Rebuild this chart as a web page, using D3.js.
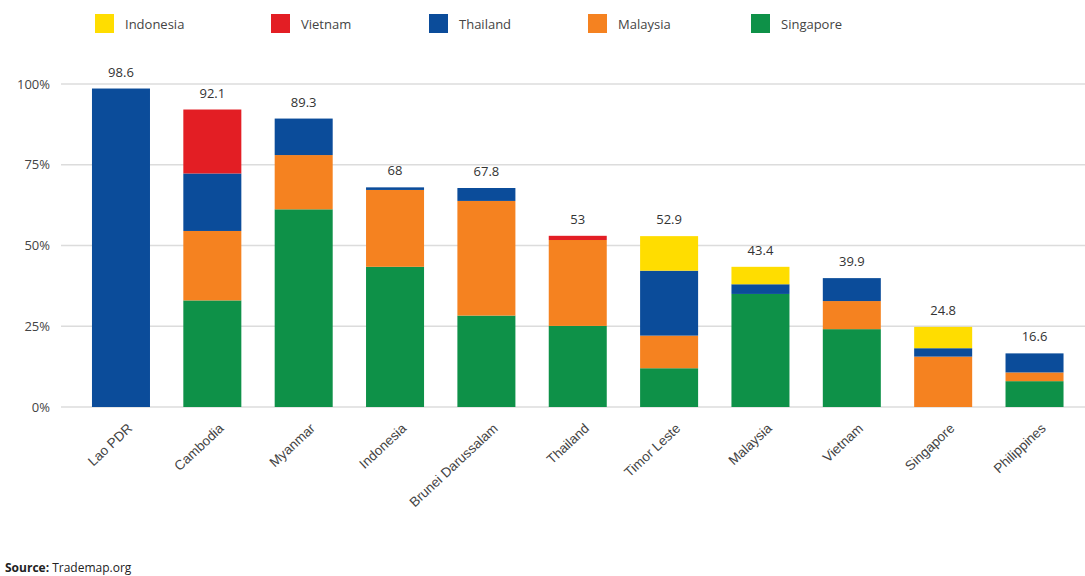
<!DOCTYPE html>
<html>
<head>
<meta charset="utf-8">
<script src="https://cdn.jsdelivr.net/npm/d3@7"></script>
<style>
  html, body { margin: 0; padding: 0; background: #fff; }
  svg { display: block; font-family: "Open Sans", sans-serif; }
</style>
</head>
<body>
<svg id="chart" width="1085" height="576"></svg>
<script>
// ---- data ----
const countries = ["Lao PDR", "Cambodia", "Myanmar", "Indonesia", "Brunei Darussalam", "Thailand", "Timor Leste", "Malaysia", "Vietnam", "Singapore", "Philippines"];
const totals = [98.6, 92.1, 89.3, 68, 67.8, 53, 52.9, 43.4, 39.9, 24.8, 16.6];
const seriesNames = ["Singapore", "Malaysia", "Thailand", "Vietnam", "Indonesia"]; // stack order bottom -> top
const legendOrder = ["Indonesia", "Vietnam", "Thailand", "Malaysia", "Singapore"];
const singapore = [0, 33.0, 61.2, 43.4, 28.3, 25.1, 12.0, 35.0, 24.1, 0, 8.0];
const malaysia  = [0, 21.5, 16.8, 23.8, 35.5, 26.6, 10.1, 0, 8.7, 15.6, 2.7];
const thailand  = [98.6, 17.8, 11.3, 0.8, 4.0, 0, 20.1, 3.0, 7.1, 2.6, 5.9];
const vietnam   = [0, 19.8, 0, 0, 0, 1.3, 0, 0, 0, 0, 0];
const indonesia = [0, 0, 0, 0, 0, 0, 10.7, 5.4, 0, 6.6, 0];
const yTicks = [0, 25, 50, 75, 100];
const colors = { Indonesia: "#ffdd00", Vietnam: "#e31e24", Thailand: "#0b4c9a", Malaysia: "#f58220", Singapore: "#0e9148" };

const seriesValues = { Singapore: singapore, Malaysia: malaysia, Thailand: thailand, Vietnam: vietnam, Indonesia: indonesia };
const rows = countries.map((c, i) => {
  const r = { country: c, total: totals[i] };
  seriesNames.forEach(s => r[s] = seriesValues[s][i]);
  return r;
});

const svg = d3.select("#chart");
const x = d3.scaleBand().domain(countries).range([75.3, 1080.2]).paddingInner(0.365).paddingOuter(0.1825);
const y = d3.scaleLinear().domain([0, 100]).range([407, 84]);

// gridlines
svg.append("g").selectAll("line").data(yTicks).join("line")
  .attr("x1", 61).attr("x2", 1085)
  .attr("y1", d => y(d)).attr("y2", d => y(d))
  .attr("stroke", "#dcdcdc").attr("stroke-width", 1.5);

// y axis labels
const yAxis = d3.axisLeft(y).tickValues(yTicks).tickFormat(d => d + "%").tickSize(0).tickPadding(0);
const ya = svg.append("g").attr("transform", "translate(50,0)").call(yAxis);
ya.select(".domain").remove();
ya.selectAll("text").attr("font-size", 13).attr("fill", "#444").attr("font-family", "Open Sans, sans-serif");

// stacked bars
const stack = d3.stack().keys(seriesNames)(rows);
svg.append("g").selectAll("g").data(stack).join("g")
  .attr("fill", d => colors[d.key])
  .selectAll("rect").data(d => d).join("rect")
  .attr("x", d => x(d.data.country))
  .attr("width", x.bandwidth())
  .attr("y", d => y(d[1]))
  .attr("height", d => Math.max(0, y(d[0]) - y(d[1])));

// value labels
svg.append("g").selectAll("text").data(rows).join("text")
  .attr("x", d => x(d.country) + x.bandwidth() / 2)
  .attr("y", d => y(d.total) - 12)
  .attr("text-anchor", "middle")
  .attr("font-size", 13).attr("fill", "#333")
  .text(d => d.total);

// x axis labels
const xAxis = d3.axisBottom(x).tickSize(0).tickPadding(0);
const xa = svg.append("g").attr("transform", "translate(0,407)").call(xAxis);
xa.select(".domain").remove();
xa.selectAll("text")
  .attr("font-size", 13.5).attr("fill", "#444")
  .attr("text-anchor", "end")
  .attr("transform", "translate(9,19) rotate(-43)")
  .attr("dy", "0.35em");

// legend
const legendX = [95, 271, 429, 588, 751];
const lg = svg.append("g").selectAll("g").data(legendOrder).join("g")
  .attr("transform", (d, i) => `translate(${legendX[i]},14)`);
lg.append("rect").attr("width", 19).attr("height", 19).attr("fill", d => colors[d]);
lg.append("text").attr("x", 30).attr("y", 10).attr("dy", "0.35em")
  .attr("font-size", 13).attr("fill", "#444").text(d => d);

// source
const src = svg.append("text").attr("x", 5).attr("y", 572).attr("font-size", 12).attr("fill", "#222");
src.append("tspan").attr("font-weight", "bold").text("Source: ");
src.append("tspan").text("Trademap.org");
</script>
</body>
</html>
